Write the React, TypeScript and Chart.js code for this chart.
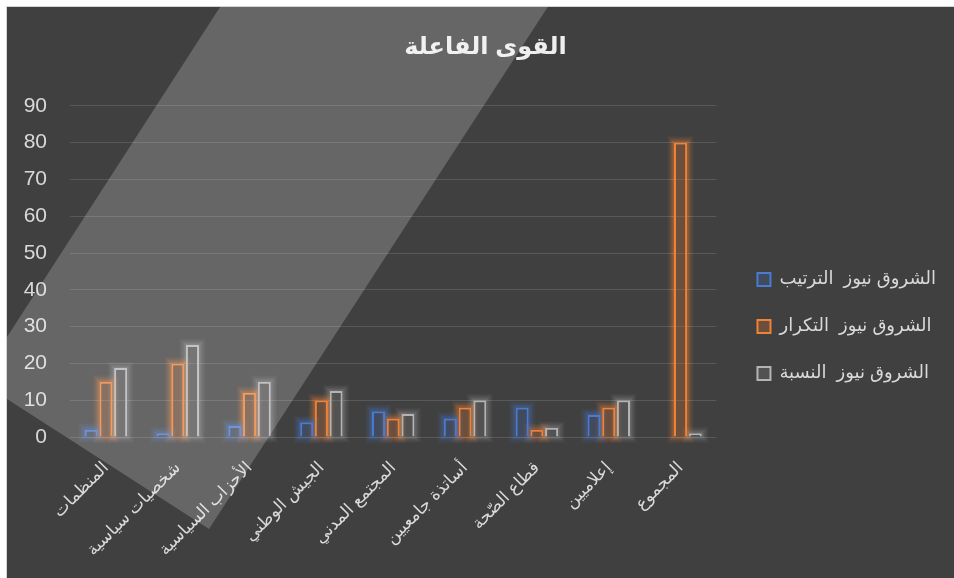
import React, { useEffect, useRef } from "react";
import { Chart, registerables } from "chart.js";

Chart.register(...registerables);

const categories = [
  "المنظمات",
  "شخصيات سياسية",
  "الأحزاب السياسية",
  "الجيش الوطني",
  "المجتمع المدني",
  "أساتذة جامعيين",
  "قطاع الصّحة",
  "إعلاميين",
  "المجموع",
];
const rankValues = [2, 1, 3, 4, 7, 5, 8, 6, null];
const freqValues = [15, 20, 12, 10, 5, 8, 2, 8, 80];
const pctValues = [18.75, 25, 15, 12.5, 6.25, 10, 2.5, 10, 1];
const seriesNames = ["الشروق نيوز  الترتيب", "الشروق نيوز  التكرار", "الشروق نيوز  النسبة"];
const yTicks = [0, 10, 20, 30, 40, 50, 60, 70, 80, 90];
const titleText = "القوى الفاعلة";

const seriesValues = [rankValues, freqValues, pctValues];
const glowRGB = ["68,114,196", "237,125,49", "200,200,200"];
const glowAlpha = [0.5, 0.5, 0.3];

const FONT = "'Liberation Sans', 'DejaVu Sans', sans-serif";

function drawGlow(chart: any) {
  const ctx = chart.ctx;
  const N = 7;
  ctx.save();
  ctx.globalCompositeOperation = "destination-over";
  ctx.lineWidth = 1;
  for (let d = 0; d < seriesValues.length; d++) {
    const meta = chart.getDatasetMeta(d);
    const vals = seriesValues[d];
    meta.data.forEach((el: any, i: number) => {
      if (vals[i] == null) return;
      const p = el.getProps(["x", "y", "base", "width"], true);
      const x = p.x, y = p.y, base = p.base, width = p.width;
      if (!isFinite(x) || !isFinite(y) || !isFinite(base) || !isFinite(width)) return;
      const top = Math.min(y, base);
      const h = Math.abs(base - y);
      const left = x - width / 2;
      for (let k = 1; k <= N; k++) {
        const a = glowAlpha[d] * Math.pow(1 - (k - 1) / N, 1.6);
        ctx.strokeStyle = "rgba(" + glowRGB[d] + "," + a.toFixed(3) + ")";
        ctx.strokeRect(left - k + 0.5, top - k + 0.5, width + 2 * k - 1, h + 2 * k - 1);
      }
    });
  }
  ctx.restore();
}

const shiftPlugin = {
  id: "shiftBoxes",
  afterLayout(chart: any) {
    const lg = chart.legend;
    if (lg) {
      lg.left += 12;
      lg.right += 12;
      lg.top += 34;
      lg.bottom += 34;
    }
    const tb = chart.titleBlock;
    if (tb) {
      tb.left += 15;
      tb.right += 15;
    }
  },
};

const overlayPlugin = {
  id: "overlay",
  afterDraw(chart: any) {
    drawGlow(chart);
    const { ctx, width: w, height: h } = chart;
    ctx.save();
    ctx.globalCompositeOperation = "source-over";
    ctx.fillStyle = "rgba(255,255,255,0.2)";
    ctx.beginPath();
    ctx.moveTo(0.225 * w, 0);
    ctx.lineTo(0.571 * w, 0);
    ctx.lineTo(0.2133 * w, 0.914 * h);
    ctx.lineTo(0, 0.6865 * h);
    ctx.lineTo(0, 0.578 * h);
    ctx.closePath();
    ctx.fill();
    ctx.restore();
  },
};

export default function App() {
  const ref = useRef<HTMLCanvasElement | null>(null);
  useEffect(() => {
    if (!ref.current) return;
    const mk = (label: string, data: any[], color: string, fill: string) => ({
      label,
      data,
      backgroundColor: fill,
      borderColor: color,
      borderWidth: 2,
    });
    const chart = new Chart(ref.current, {
      type: "bar",
      data: {
        labels: categories,
        datasets: [
          mk(seriesNames[0], rankValues, "#4a7bd4", "rgba(68,114,196,0.22)"),
          mk(seriesNames[1], freqValues, "#f08236", "rgba(237,125,49,0.25)"),
          mk(seriesNames[2], pctValues, "#b4b4b4", "rgba(165,165,165,0.18)"),
        ] as any,
      },
      options: {
        animation: false,
        responsive: false,
        maintainAspectRatio: false,
        layout: { padding: { left: 0, right: 20, top: 0, bottom: 0 } },
        datasets: {
          bar: { categoryPercentage: 0.615, barPercentage: 0.89 },
        } as any,
        plugins: {
          title: {
            display: true,
            text: titleText,
            color: "#eeeeee",
            font: { family: FONT, size: 24, weight: "bold", lineHeight: 1.2 },
            padding: { top: 26, bottom: 44 },
          },
          legend: {
            position: "right",
            align: "center",
            labels: {
              boxWidth: 13,
              boxHeight: 13,
              padding: 29,
              color: "#d9d9d9",
              font: { family: FONT, size: 18 },
            },
          },
          tooltip: { enabled: false },
        },
        scales: {
          x: {
            grid: { display: false },
            border: { display: false },
            ticks: {
              autoSkip: false,
              minRotation: 45,
              maxRotation: 45,
              color: "#d9d9d9",
              padding: 13,
              font: { family: FONT, size: 17 },
            },
            afterFit(axis: any) {
              axis.height = 141;
            },
          },
          y: {
            min: 0,
            max: 90,
            afterBuildTicks(axis: any) {
              axis.ticks = yTicks.map((v) => ({ value: v }));
            },
            grid: { color: "rgba(255,255,255,0.13)", lineWidth: 1, drawTicks: false },
            border: { display: false },
            ticks: {
              color: "#d9d9d9",
              padding: 23,
              font: { family: FONT, size: 21 },
            },
            afterFit(axis: any) {
              axis.width = 63;
            },
          },
        },
      } as any,
      plugins: [shiftPlugin, overlayPlugin],
    });
    return () => chart.destroy();
  }, []);

  return (
    <div style={{ position: "absolute", left: 0, top: 0, width: 954, height: 578, background: "#ffffff", overflow: "hidden" }}>
      <div
        style={{
          position: "absolute",
          left: 6,
          top: 6,
          width: 948,
          height: 572,
          borderTop: "1px solid #d4d4d4",
          borderLeft: "1px solid #d4d4d4",
          background: "#404040",
        }}
      >
        <canvas ref={ref} width={947} height={571} style={{ display: "block", width: 947, height: 571 }} />
      </div>
    </div>
  );
}
